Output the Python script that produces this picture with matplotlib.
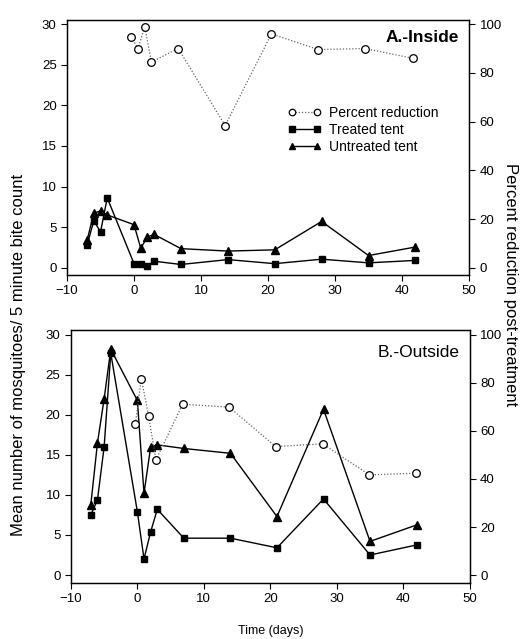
import matplotlib
matplotlib.use("Agg")
import matplotlib.pyplot as plt

plt.rcParams['font.family'] = ['Liberation Sans', 'DejaVu Sans']

days = [-7, -6, -5, -4, 0, 1, 2, 3, 7, 14, 21, 28, 35, 42]

# Panel A (inside)
a_treated = [2.8, 5.8, 4.4, 8.6, 0.5, 0.4, 0.25, 0.8, 0.4, 1.0, 0.5, 1.05, 0.6, 0.9]
a_untreated = [3.4, 6.7, 7.0, 6.5, 5.3, 2.4, 3.8, 4.1, 2.35, 2.05, 2.2, 5.7, 1.5, 2.55]
a_pct_days = [-0.4, 0.6, 1.6, 2.6, 6.6, 13.6, 20.5, 27.5, 34.5, 41.6]
a_pct = [94.7, 90.0, 99.0, 84.5, 90.0, 58.4, 96.0, 89.6, 90.0, 86.0]

# Panel B (outside)
b_treated = [7.5, 9.4, 16.0, 27.7, 7.9, 2.0, 5.4, 8.2, 4.6, 4.6, 3.4, 9.5, 2.5, 3.75]
b_untreated = [8.8, 16.5, 22.0, 28.2, 21.8, 10.2, 16.0, 16.25, 15.8, 15.2, 7.3, 20.7, 4.2, 6.25]
b_pct_days = [-0.3, 0.6, 1.7, 2.8, 6.8, 13.8, 20.8, 27.9, 34.9, 41.9]
b_pct = [63.0, 81.8, 66.0, 47.9, 71.1, 69.9, 53.5, 54.6, 41.7, 42.4]

x_ticks = [-10, 0, 10, 20, 30, 40, 50]
left_ticks = [0, 5, 10, 15, 20, 25, 30]
right_ticks = [0, 20, 40, 60, 80, 100]

fig = plt.figure(figsize=(5.29, 6.39), dpi=100)
axA = fig.add_axes([0.1267, 0.5696, 0.760, 0.399])
axB = fig.add_axes([0.134, 0.0876, 0.754, 0.396])


def draw(ax, treated, untreated, pdays, pct, ylim, rlim, title, bold, ty):
    ax2 = ax.twinx()
    ax.plot(days, treated, color='black', lw=1.0, marker='s', ms=5,
            label='Treated tent', zorder=3)
    ax.plot(days, untreated, color='black', lw=1.0, marker='^', ms=5.5,
            label='Untreated tent', zorder=3)
    ax2.plot(pdays, pct, color='#666666', lw=0.9, ls=(0, (1, 1.5)), marker='o', ms=5.5,
             mfc='white', mec='black', mew=0.9, label='Percent reduction')
    ax.set_xlim(-10, 50)
    ax.set_ylim(*ylim)
    ax2.set_ylim(*rlim)
    ax.set_xticks(x_ticks)
    ax.set_yticks(left_ticks)
    ax2.set_yticks(right_ticks)
    for a in (ax, ax2):
        a.tick_params(labelsize=9.5, direction='out', length=4, width=0.8)
        for s in a.spines.values():
            s.set_linewidth(0.9)
    ax.text(0.975, ty, title, transform=ax.transAxes, ha='right', va='center',
            fontsize=12.5, fontweight='bold' if bold else 'normal')
    return ax2


axA2 = draw(axA, a_treated, a_untreated, a_pct_days, a_pct, (-0.9, 30.5), (-3.0, 101.7),
            'A.-Inside', True, 0.93)
axB2 = draw(axB, b_treated, b_untreated, b_pct_days, b_pct, (-1.0, 30.6), (-3.3, 102.0),
            'B.-Outside', False, 0.91)

h1, l1 = axA2.get_legend_handles_labels()
h2, l2 = axA.get_legend_handles_labels()
axA.legend(h1 + h2, l1 + l2, loc='upper left', bbox_to_anchor=(0.535, 0.685),
           frameon=False, fontsize=10, numpoints=2, handlelength=2.4,
           handletextpad=0.6, labelspacing=0.22, borderaxespad=0, markerscale=0.85)

axB.set_xlabel('Time (days)', fontsize=9, labelpad=14)
fig.text(0.035, 0.444, 'Mean number of mosquitoes/ 5 minute bite count',
         rotation=90, ha='center', va='center', fontsize=12)
fig.text(0.965, 0.554, 'Percent reduction post-treatment',
         rotation=-90, ha='center', va='center', fontsize=12)

fig.savefig('out.png', dpi=100)
